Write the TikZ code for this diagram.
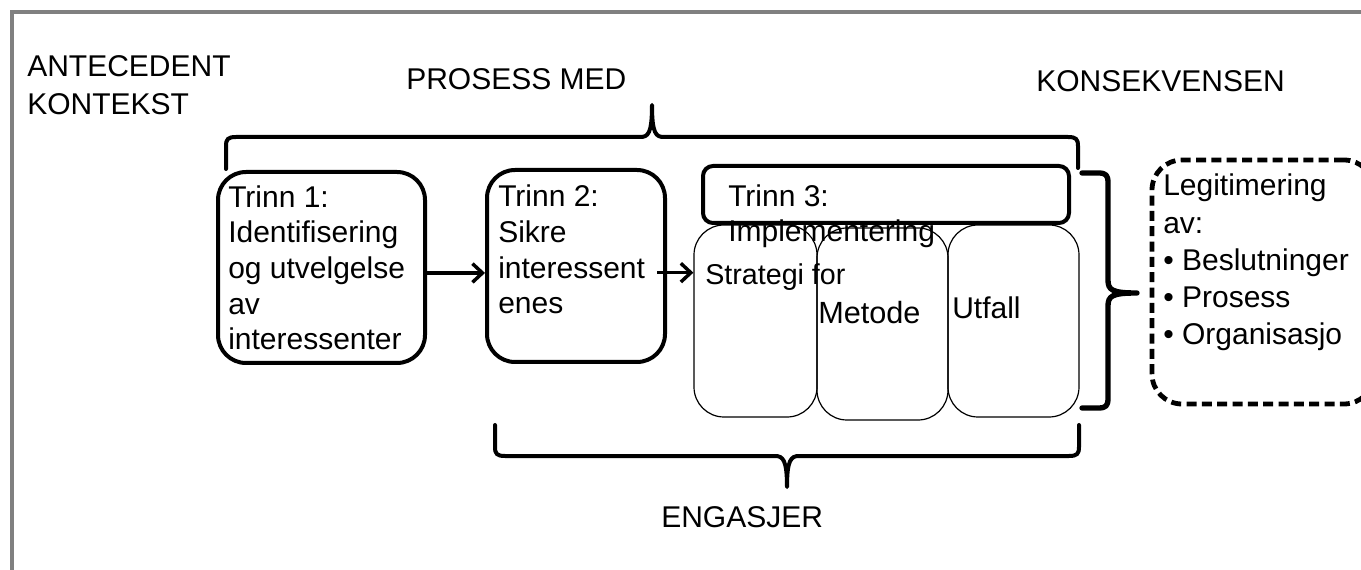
\documentclass[tikz,border=0pt]{standalone}
\usepackage{fontspec}
\setmainfont{Liberation Sans}
\usetikzlibrary{arrows.meta,calc}
\definecolor{frameg}{RGB}{128,128,128}
\begin{document}
\begin{tikzpicture}[x=0.75pt,y=-0.75pt,
  txt/.style={inner sep=0pt,anchor=base west,align=left,font=\fontsize{22.5pt}{26.8pt}\selectfont},
  thickbox/.style={draw,line width=3pt,rounded corners=21pt,inner sep=0pt},
  headbox/.style={draw,line width=3pt,rounded corners=7.5pt,inner sep=0pt,fill=white},
  thinbox/.style={draw,line width=0.9pt,rounded corners=22.5pt,inner sep=0pt},
  dashbox/.style={draw,line width=3.6pt,rounded corners=22.5pt,inner sep=0pt,dash pattern=on 7.5pt off 4pt},
  arr/.style={line width=2.6pt,-{Straight Barb[length=7.5pt,width=14pt]}},
  brace/.style={line width=3pt,line join=round,line cap=round},
  bigbrace/.style={line width=4pt,line join=round,line cap=round}]
\useasboundingbox (0,0) rectangle (1361,570);
% frame
\draw[frameg,line width=3pt] (12,580) -- (12,12) -- (1370,12);
% headings (multi-line nodes: anchored on the baseline of their last line)
\node[txt,font=\fontsize{22.5pt}{28.5pt}\selectfont] (ant) at (27,115) {ANTECEDENT\\KONTEKST};
\node[txt] (pros) at (406,90) {PROSESS MED};
\node[txt,anchor=base east] (kons) at (1285,92) {KONSEKVENSEN};
\node[txt] (eng) at (661,527) {ENGASJER};
% top brace
\draw[brace] (226,169) -- (226,146) .. controls (226,139) and (228,137) .. (236,137) -- (640,137) .. controls (648,137) and (652,134) .. (652,105) .. controls (652,134) and (656,137) .. (664,137) -- (1068,137) .. controls (1076,137) and (1078,139) .. (1078,146) -- (1078,168);
% bottom brace
\draw[brace] (495,425) -- (495,447) .. controls (495,454) and (497,456) .. (505,456) -- (775,456) .. controls (783,456) and (787,460) .. (787,487) .. controls (787,460) and (791,456) .. (799,456) -- (1069,456) .. controls (1077,456) and (1079,454) .. (1079,447) -- (1079,425);
% right brace
\draw[bigbrace] (1082,173) -- (1098,173) .. controls (1106,173) and (1108,175) .. (1108,183) -- (1108,280) .. controls (1108,290) and (1112,293) .. (1137,293) .. controls (1112,293) and (1108,296) .. (1108,306) -- (1108,398) .. controls (1108,406) and (1106,408) .. (1098,408) -- (1082,408);
% step boxes
\node[thickbox,minimum width=155.25pt,minimum height=143.25pt] (t1) at (321.5,267.5) {};
\node[thickbox,minimum width=133.5pt,minimum height=144pt] (t2) at (576,266) {};
\node[thinbox,minimum width=92.25pt,minimum height=144pt] (strat) at (755.5,321) {};
\node[thinbox,minimum width=98.25pt,minimum height=144pt] (meth) at (882.5,324) {};
\node[thinbox,minimum width=98.25pt,minimum height=144pt] (utf) at (1013.5,321) {};
\node[headbox,minimum width=274.5pt,minimum height=42.75pt] (t3) at (886,194.5) {};
\node[dashbox,minimum width=166.5pt,minimum height=183pt] (leg) at (1263,282) {};
% texts
\node[txt] (t1txt) at (228,350) {Trinn 1:\\Identifisering\\og utvelgelse\\av\\interessenter};
\node[txt] (t2txt) at (498,314) {Trinn 2:\\Sikre\\interessent\\enes};
\node[txt,font=\fontsize{22.5pt}{26.3pt}\selectfont] (t3txt) at (728,242) {Trinn 3:\\Implementering};
\node[txt,font=\fontsize{21.5pt}{26pt}\selectfont] (strattxt) at (705,285) {Strategi for};
\node[txt,font=\fontsize{23pt}{27pt}\selectfont] (methtxt) at (818,324) {Metode};
\node[txt] (utftxt) at (952,319) {Utfall};
\node[txt,font=\fontsize{22.5pt}{28pt}\selectfont] (legtxt) at (1163,345) {Legitimering\\av:\\\textbullet{} Beslutninger\\\textbullet{} Prosess\\\textbullet{} Organisasjo};
% arrows
\draw[arr] ([yshift=-4.1pt]t1.east) coordinate (a1s) -- (a1s -| t2.west);
\draw[arr] ([xshift=-7.5pt,yshift=-5pt]t2.east) coordinate (a2s) -- (a2s -| strat.west);
\end{tikzpicture}
\end{document}
